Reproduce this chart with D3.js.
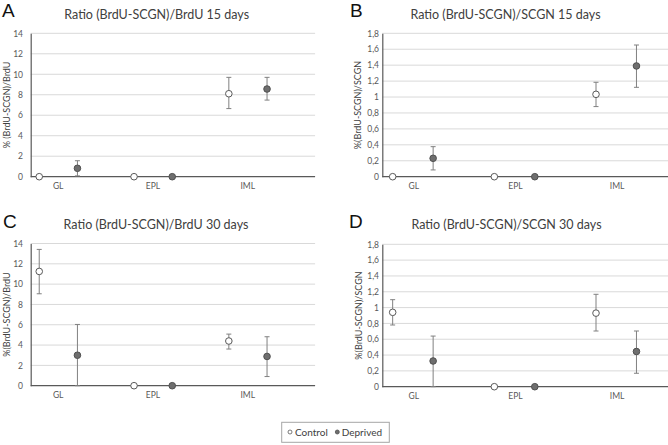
<!DOCTYPE html>
<html>
<head>
<meta charset="utf-8">
<script src="https://cdn.jsdelivr.net/npm/d3@7"></script>
<style>
  html, body { margin: 0; padding: 0; background: #fff; }
  svg { display: block; }
</style>
</head>
<body>
<svg id="chart" width="668" height="445"></svg>
<script>
// ---------------- DATA ----------------
const categories = ["GL", "EPL", "IML"];
const seriesNames = ["Control", "Deprived"];
const panelLetters = ["A", "B", "C", "D"];
const panelTitles = [
  "Ratio (BrdU-SCGN)/BrdU 15 days",
  "Ratio (BrdU-SCGN)/SCGN 15 days",
  "Ratio (BrdU-SCGN)/BrdU 30 days",
  "Ratio (BrdU-SCGN)/SCGN 30 days"
];
const yLabels = [
  "% (BrdU-SCGN)/BrdU",
  "%(BrdU-SCGN)/SCGN",
  "%(BrdU-SCGN)/BrdU",
  "%(BrdU-SCGN)/SCGN"
];
const ticksBrdU = [0, 2, 4, 6, 8, 10, 12, 14];
const ticksSCGN = [0, 0.2, 0.4, 0.6, 0.8, 1, 1.2, 1.4, 1.6, 1.8];

// Panel A
const controlA = [0, 0, 8.1];
const controlA_low = [null, null, 6.65];
const controlA_high = [null, null, 9.7];
const deprivedA = [0.82, 0, 8.56];
const deprivedA_low = [0.08, null, 7.48];
const deprivedA_high = [1.56, null, 9.7];
// Panel B
const controlB = [0, 0, 1.034];
const controlB_low = [null, null, 0.88];
const controlB_high = [null, null, 1.185];
const deprivedB = [0.231, 0, 1.39];
const deprivedB_low = [0.085, null, 1.122];
const deprivedB_high = [0.377, null, 1.653];
// Panel C
const controlC = [11.25, 0, 4.4];
const controlC_low = [9.05, null, 3.61];
const controlC_high = [13.42, null, 5.08];
const deprivedC = [3.0, 0, 2.88];
const deprivedC_low = [0, null, 0.9];
const deprivedC_high = [6.03, null, 4.82];
// Panel D
const controlD = [0.94, 0, 0.93];
const controlD_low = [0.78, null, 0.704];
const controlD_high = [1.1, null, 1.168];
const deprivedD = [0.325, 0, 0.445];
const deprivedD_low = [0, null, 0.17];
const deprivedD_high = [0.64, null, 0.704];

// ---------------- BUILD ----------------
const panelsData = [
  { c: controlA, cl: controlA_low, ch: controlA_high, d: deprivedA, dl: deprivedA_low, dh: deprivedA_high, ticks: ticksBrdU },
  { c: controlB, cl: controlB_low, ch: controlB_high, d: deprivedB, dl: deprivedB_low, dh: deprivedB_high, ticks: ticksSCGN },
  { c: controlC, cl: controlC_low, ch: controlC_high, d: deprivedC, dl: deprivedC_low, dh: deprivedC_high, ticks: ticksBrdU },
  { c: controlD, cl: controlD_low, ch: controlD_high, d: deprivedD, dl: deprivedD_low, dh: deprivedD_high, ticks: ticksSCGN }
];

const layout = [
  { left: 30.7, width: 284.4, top: 33.3, bottom: 176.7, offC: 0.09, offD: 0.493, offL: 0.29, titleX: 156.7, titleY: 18.5, letterX: 2, letterY: 17, ylabX: 6.5, tickX: 23 },
  { left: 382.3, width: 305, top: 33.3, bottom: 176.7, offC: 0.102, offD: 0.5, offL: 0.31, titleX: 505.5, titleY: 18.5, letterX: 350, letterY: 17, ylabX: 357.5, tickX: 379 },
  { left: 30.7, width: 284.4, top: 243.5, bottom: 385.7, offC: 0.09, offD: 0.493, offL: 0.29, titleX: 156, titleY: 228.5, letterX: 3, letterY: 228, ylabX: 6.5, tickX: 23 },
  { left: 382.3, width: 305, top: 244.3, bottom: 386.7, offC: 0.102, offD: 0.5, offL: 0.31, titleX: 506.5, titleY: 228.5, letterX: 349, letterY: 228, ylabX: 358.5, tickX: 379 }
];

const FONT = "Lato, 'Liberation Sans', sans-serif";
const svg = d3.select("#chart");
const fmt = v => String(v).replace(".", ",");

panelsData.forEach((p, i) => {
  const L = layout[i];
  const g = svg.append("g");
  const yMax = p.ticks[p.ticks.length - 1];
  const y = d3.scaleLinear().domain([0, yMax]).range([L.bottom, L.top]);
  const x = d3.scaleBand().domain(categories).range([L.left, L.left + L.width]).padding(0);
  const bw = x.bandwidth();

  // gridlines
  g.selectAll("line.grid").data(p.ticks.filter(t => t > 0)).join("line")
    .attr("x1", L.left).attr("x2", L.left + L.width)
    .attr("y1", d => y(d)).attr("y2", d => y(d))
    .attr("stroke", "#d9d9d9").attr("stroke-width", 1);

  // y axis
  const yAxis = d3.axisLeft(y).tickValues(p.ticks).tickSize(0).tickPadding(0).tickFormat(fmt);
  const ya = g.append("g").attr("transform", `translate(${L.left},0)`).call(yAxis);
  ya.select(".domain").attr("stroke", "#595959").attr("stroke-width", 1.2);
  ya.selectAll(".tick text")
    .attr("x", L.tickX - L.left).attr("text-anchor", "end")
    .attr("font-family", FONT).attr("font-size", 8.5).attr("fill", "#595959");

  // x axis line
  g.append("line").attr("x1", L.left).attr("x2", L.left + L.width)
    .attr("y1", y(0)).attr("y2", y(0)).attr("stroke", "#595959").attr("stroke-width", 1.3);

  // category labels
  g.selectAll("text.cat").data(categories).join("text")
    .attr("x", d => x(d) + bw * L.offL).attr("y", y(0) + 12.5)
    .attr("text-anchor", "middle").attr("font-family", FONT).attr("font-size", 8.5)
    .attr("fill", "#595959").text(d => d);

  // titles
  g.append("text").attr("x", L.titleX).attr("y", L.titleY).attr("text-anchor", "middle")
    .attr("font-family", FONT).attr("font-size", 12.5).attr("fill", "#404040").text(panelTitles[i]);
  g.append("text").attr("x", L.letterX).attr("y", L.letterY)
    .attr("font-family", "'Liberation Sans', Arial, sans-serif").attr("font-size", 19).attr("fill", "#111").text(panelLetters[i]);

  // y label
  const ymid = (L.top + L.bottom) / 2;
  g.append("text").attr("transform", `translate(${L.ylabX + 3},${ymid}) rotate(-90)`)
    .attr("text-anchor", "middle").attr("font-family", FONT).attr("font-size", 9)
    .attr("fill", "#404040").text(yLabels[i]);

  // series
  const series = [
    { name: seriesNames[0], v: p.c, lo: p.cl, hi: p.ch, off: L.offC, fill: "#ffffff", stroke: "#595959" },
    { name: seriesNames[1], v: p.d, lo: p.dl, hi: p.dh, off: L.offD, fill: "#6e6e6e", stroke: "#505050" }
  ];
  series.forEach(s => {
    const pts = categories.map((c, k) => ({ c, v: s.v[k], lo: s.lo[k], hi: s.hi[k] }));
    const eb = pts.filter(d => d.lo !== null && d.hi !== null);
    const cx = d => x(d.c) + bw * s.off;
    g.selectAll(null).data(eb).join("line")
      .attr("x1", cx).attr("x2", cx).attr("y1", d => y(d.lo)).attr("y2", d => y(d.hi))
      .attr("stroke", "#808080").attr("stroke-width", 1);
    g.selectAll(null).data(eb).join("line")
      .attr("x1", d => cx(d) - 2.5).attr("x2", d => cx(d) + 2.5).attr("y1", d => y(d.hi)).attr("y2", d => y(d.hi))
      .attr("stroke", "#808080").attr("stroke-width", 1);
    g.selectAll(null).data(eb).join("line")
      .attr("x1", d => cx(d) - 2.5).attr("x2", d => cx(d) + 2.5).attr("y1", d => y(d.lo)).attr("y2", d => y(d.lo))
      .attr("stroke", "#808080").attr("stroke-width", 1);
    g.selectAll(null).data(pts).join("circle")
      .attr("cx", cx).attr("cy", d => y(d.v)).attr("r", 3.3)
      .attr("fill", s.fill).attr("stroke", s.stroke).attr("stroke-width", 1);
  });
});

// legend
const lg = svg.append("g");
lg.append("rect").attr("x", 281.7).attr("y", 422.3).attr("width", 107.6).attr("height", 20)
  .attr("fill", "#fff").attr("stroke", "#a6a6a6").attr("stroke-width", 1);
const legendItems = [
  { name: seriesNames[0], cx: 290, tx: 295, fill: "#ffffff", stroke: "#595959" },
  { name: seriesNames[1], cx: 337.3, tx: 341.7, fill: "#6e6e6e", stroke: "#505050" }
];
legendItems.forEach(it => {
  lg.append("circle").attr("cx", it.cx).attr("cy", 432).attr("r", 2)
    .attr("fill", it.fill).attr("stroke", it.stroke).attr("stroke-width", 0.8);
  lg.append("text").attr("x", it.tx).attr("y", 435.5).attr("font-family", FONT)
    .attr("font-size", 10).attr("fill", "#404040").text(it.name);
});
</script>
</body>
</html>
